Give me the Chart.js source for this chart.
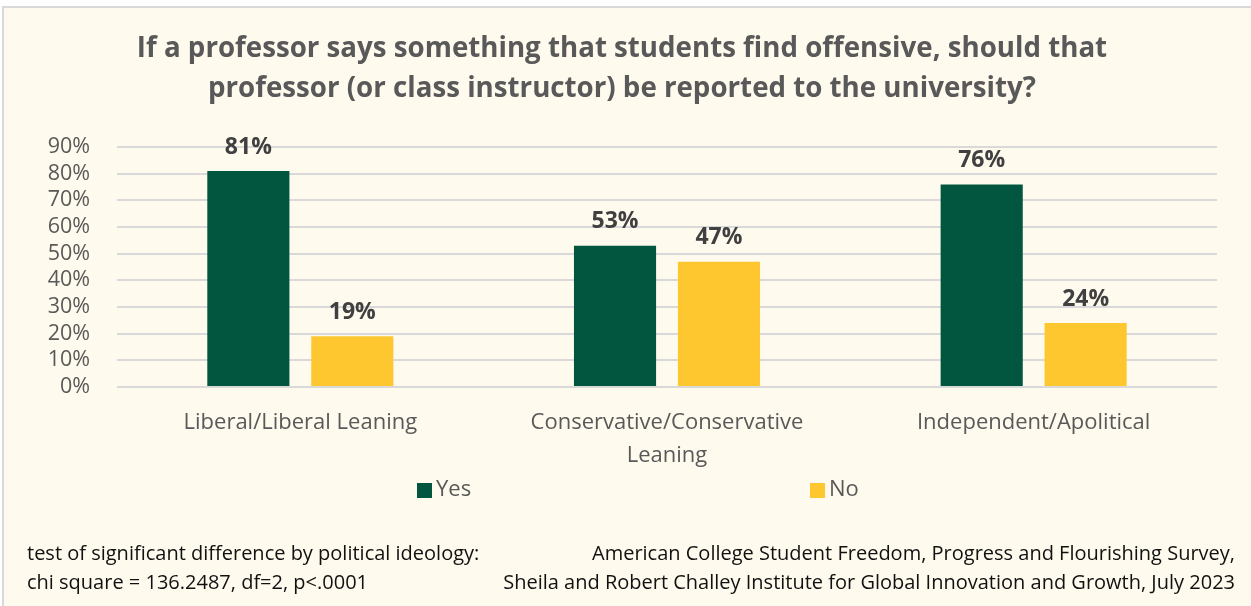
<!DOCTYPE html>
<html>
<head>
<meta charset="utf-8">
<script src="https://cdn.jsdelivr.net/npm/chart.js@4"></script>
<style>
  html, body { margin: 0; padding: 0; background: #ffffff; width: 1251px; height: 606px; overflow: hidden; }
  #box { position: absolute; left: 2px; top: 6px; width: 1260px; height: 610px; background: #FFFAEE; border-top: 2px solid #D9D9D9; border-left: 2px solid #D9D9D9; box-sizing: border-box; }
  #wrap { position: absolute; left: 0; top: 0; width: 1251px; height: 606px; }
  .note { position: absolute; font-family: "Open Sans", sans-serif; font-size: 20px; color: #111; line-height: 29px; white-space: nowrap; }
  #noteL { left: 27px; top: 538px; }
  #noteR { right: 16px; top: 538px; text-align: right; }
</style>
</head>
<body>
<div id="box"></div>
<div id="wrap"><canvas id="c" width="1251" height="606"></canvas></div>
<div class="note" id="noteL">test of significant difference by political ideology:<br>chi square = 136.2487, df=2, p&lt;.0001</div>
<div class="note" id="noteR">American College Student Freedom, Progress and Flourishing Survey,<br>Sheila and Robert Challey Institute for Global Innovation and Growth, July 2023</div>
<script>
const titleLines = ["If a professor says something that students find offensive, should that", "professor (or class instructor) be reported to the university?"];
const categories = [["Liberal/Liberal Leaning"], ["Conservative/Conservative", "Leaning"], ["Independent/Apolitical"]];
const yesValues = [81, 53, 76];
const noValues = [19, 47, 24];
const seriesNames = ["Yes", "No"];
const yTicks = [0, 10, 20, 30, 40, 50, 60, 70, 80, 90];

const FONT = '"Open Sans", sans-serif';

const dataLabels = {
  id: 'dataLabels',
  afterDatasetsDraw(chart) {
    const ctx = chart.ctx;
    ctx.save();
    ctx.font = 'bold 23px ' + FONT;
    ctx.fillStyle = '#404040';
    ctx.textAlign = 'center';
    ctx.textBaseline = 'middle';
    chart.data.datasets.forEach((ds, i) => {
      chart.getDatasetMeta(i).data.forEach((bar, j) => {
        ctx.fillText(ds.data[j] + '%', bar.x, bar.y - 24);
      });
    });
    ctx.restore();
  }
};

const customLegend = {
  id: 'customLegend',
  afterDraw(chart, args, opts) {
    const ctx = chart.ctx;
    ctx.save();
    ctx.font = '22px ' + FONT;
    ctx.textBaseline = 'middle';
    ctx.textAlign = 'left';
    chart.data.datasets.forEach((ds, i) => {
      const x = opts.xs[i];
      const y = opts.y;
      ctx.fillStyle = ds.backgroundColor;
      ctx.fillRect(x, y - 7, 15, 15);
      ctx.fillStyle = '#595959';
      ctx.fillText(ds.label, x + 19, y);
    });
    ctx.restore();
  }
};

new Chart(document.getElementById('c'), {
  type: 'bar',
  data: {
    labels: categories,
    datasets: [
      { label: seriesNames[0], data: yesValues, backgroundColor: '#02563F' },
      { label: seriesNames[1], data: noValues, backgroundColor: '#FFC72F' }
    ]
  },
  plugins: [dataLabels, customLegend],
  options: {
    responsive: false,
    animation: false,
    events: [],
    layout: { padding: { top: 0, right: 34, bottom: 119, left: 27 } },
    datasets: { bar: { categoryPercentage: 0.567, barPercentage: 0.79 } },
    plugins: {
      legend: { display: false },
      tooltip: { enabled: false },
      title: {
        display: true,
        text: titleLines,
        color: '#595959',
        font: { family: FONT, size: 27.7, weight: 'bold', lineHeight: 1.445 },
        padding: { top: 29, bottom: 38 }
      },
      customLegend: { xs: [417, 810], y: 490 }
    },
    scales: {
      x: {
        grid: { display: false, drawTicks: false },
        border: { display: false },
        ticks: { color: '#595959', font: { family: FONT, size: 22, lineHeight: 1.5 }, padding: 19, maxRotation: 0 },
        afterFit(scale) { scale.height = 100; }
      },
      y: {
        min: 0, max: 90,
        afterBuildTicks(scale) { scale.ticks = yTicks.map(v => ({ value: v })); },
        grid: { color: '#D9D9D9', lineWidth: 2, drawTicks: false },
        border: { display: false },
        ticks: { color: '#595959', font: { family: FONT, size: 21.5 }, padding: 27, autoSkip: false, callback: v => v + '%' },
        afterFit(scale) { scale.width = 90; }
      }
    }
  }
});
</script>
</body>
</html>
